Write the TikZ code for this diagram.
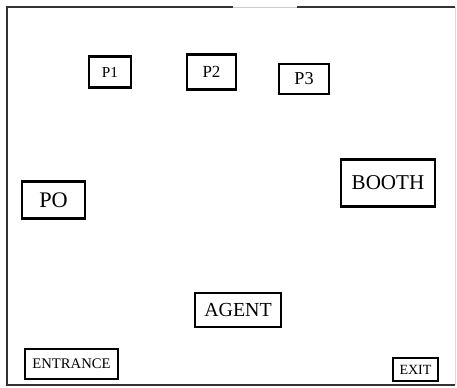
\documentclass[tikz,border=0pt]{standalone}
\usepackage{fontspec}
\setmainfont{Liberation Serif}
\begin{document}
\begin{tikzpicture}[x=0.03cm, y=-0.03cm,
		room/.style={draw, line width=2.2pt, inner sep=0pt, align=center}]
		\useasboundingbox (0,0) rectangle (457,387);
		
		% hall walls
		\coordinate (tl) at (7,7);
		\coordinate (tr) at (455,7);
		\coordinate (bl) at (7,385);
		\coordinate (br) at (455,385);
		\draw[line width=1.5pt, black!80] (233,7) -- (tl) -- (bl) -- (br);
		\draw[line width=1.5pt, black!80] (297,7) -- (tr);
		\draw[line width=0.6pt, black!20] (233,7) -- (297,7);
		\draw[line width=0.4pt, black!15] (tr) -- (br);
		
		\node[room, minimum width=1.26cm, minimum height=0.93cm, font=\fontsize{13}{15}\selectfont] (P1) at (110,72) {P1};
		\node[room, minimum width=1.47cm, minimum height=1.05cm, font=\fontsize{14.5}{16}\selectfont] (P2) at (211.5,72) {P2};
		\node[room, minimum width=1.5cm, minimum height=0.9cm, font=\fontsize{15.5}{17}\selectfont] (P3) at (304,79) {P3};
		\node[room, minimum width=1.89cm, minimum height=1.11cm, font=\fontsize{19}{21}\selectfont] (PO) at (53.5,200) {PO};
		\node[room, minimum width=2.82cm, minimum height=1.41cm, font=\fontsize{18}{20}\selectfont] (BOOTH) at (388,183) {BOOTH};
		\node[room, minimum width=2.58cm, minimum height=1.02cm, font=\fontsize{17}{19}\selectfont] (AGENT) at (238,310) {AGENT};
		\node[room, minimum width=2.79cm, minimum height=0.9cm, font=\fontsize{12.5}{14}\selectfont] (ENTRANCE) at (71.5,364) {ENTRANCE};
		\node[room, minimum width=1.35cm, minimum height=0.69cm, font=\fontsize{12}{14}\selectfont] (EXIT) at (415.5,369.5) {EXIT};
	\end{tikzpicture}
\end{document}
